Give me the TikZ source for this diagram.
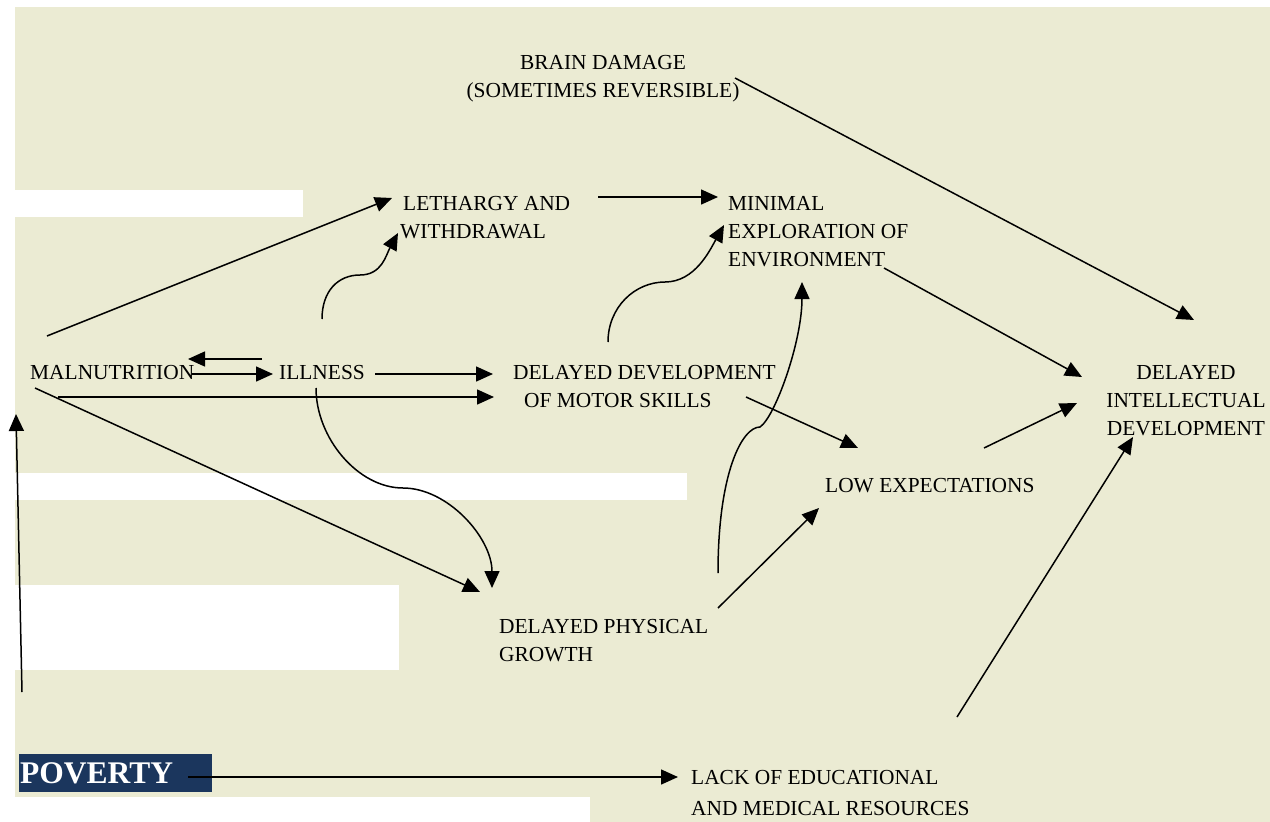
\documentclass[tikz,border=0pt]{standalone}
\usepackage{fontspec}
\setmainfont{Liberation Serif}
\usetikzlibrary{arrows.meta}
\definecolor{bgbeige}{RGB}{235,235,211}
\definecolor{povnavy}{RGB}{27,54,93}
\tikzset{
  lbl/.style={inner sep=0pt, font=\fontsize{21.4}{28}\selectfont},
  conn/.style={line width=1.5pt, -{Triangle[length=17pt,width=15pt]}},
  whitebar/.style={fill=white, draw=none},
}
\begin{document}
\begin{tikzpicture}[x=1pt,y=-1pt]
\useasboundingbox (0,0) rectangle (1270,822);
% background
\fill[bgbeige] (15,7) rectangle (1270,822);
\fill[whitebar] (0,190) rectangle (303,217);
\fill[whitebar] (0,473) rectangle (687,500);
\fill[whitebar] (0,585) rectangle (399,670);
\fill[whitebar] (0,797) rectangle (590,822);

% nodes
\node[lbl, anchor=base] (brain) at (603,69) {\begin{tabular}[t]{@{}c@{}}BRAIN DAMAGE\\(SOMETIMES REVERSIBLE)\end{tabular}};
\node[lbl, anchor=base west] (leth) at (400,210) {\begin{tabular}[t]{@{}l@{}}\hspace{3pt}LETHARGY AND\\WITHDRAWAL\end{tabular}};
\node[lbl, anchor=base west] (minimal) at (728,210) {\begin{tabular}[t]{@{}l@{}}MINIMAL\\EXPLORATION OF\\ENVIRONMENT\end{tabular}};
\node[lbl, anchor=base west] (mal) at (30,379) {MALNUTRITION};
\node[lbl, anchor=base west] (ill) at (279,379) {ILLNESS};
\node[lbl, anchor=base west] (ddms) at (513,379) {\begin{tabular}[t]{@{}l@{}}DELAYED DEVELOPMENT\\\hspace{11pt}OF MOTOR SKILLS\end{tabular}};
\node[lbl, anchor=base] (did) at (1186,379) {\begin{tabular}[t]{@{}c@{}}DELAYED\\INTELLECTUAL\\DEVELOPMENT\end{tabular}};
\node[lbl, anchor=base west] (low) at (825,492) {LOW EXPECTATIONS};
\node[lbl, anchor=base west] (dpg) at (499,633) {\begin{tabular}[t]{@{}l@{}}DELAYED PHYSICAL\\GROWTH\end{tabular}};
\node[lbl, font=\fontsize{21.4}{31}\selectfont, anchor=base west] (lack) at (691,784) {\begin{tabular}[t]{@{}l@{}}LACK OF EDUCATIONAL\\AND MEDICAL RESOURCES\end{tabular}};
\node[fill=povnavy, anchor=north west, minimum width=193pt, minimum height=38pt,
      text width=191pt, inner xsep=1pt, inner ysep=0pt, align=left, text=white,
      font=\fontsize{31.5}{36}\selectfont\bfseries] (pov) at (19,754) {POVERTY};

% straight connectors
\draw[conn] ([shift={(17,-43)}]mal.base west) -- ([shift={(-8,-12)}]leth.base west);
\draw[conn] ([shift={(198,-13)}]leth.base west) -- ([shift={(-10,-13)}]minimal.base west);
\draw[conn] ([shift={(132,9)}]brain.base) -- ([shift={(8,-59)}]did.base);
\draw[conn] ([shift={(156,58)}]minimal.base west) -- ([shift={(-104,-2)}]did.base);
\draw[conn] ([shift={(-17,-20)}]ill.base west) -- ([shift={(158,-20)}]mal.base west);
\draw[conn] ([shift={(162,-5)}]mal.base west) -- ([shift={(-6,-5)}]ill.base west);
\draw[conn] ([shift={(96,-5)}]ill.base west) -- ([shift={(-20,-5)}]ddms.base west);
\draw[conn] ([shift={(28,18)}]mal.base west) -- ([shift={(-19,18)}]ddms.base west);
\draw[conn] ([shift={(5,9)}]mal.base west) -- ([shift={(-19,-41)}]dpg.base west);
\draw[conn] ([shift={(233,18)}]ddms.base west) -- ([shift={(33,-44)}]low.base west);
\draw[conn] ([shift={(219,-25)}]dpg.base west) -- ([shift={(-6,16)}]low.base west);
\draw[conn] ([shift={(159,-44)}]low.base west) -- ([shift={(-109,24)}]did.base);
\draw[conn] ([shift={(266,-67)}]lack.base west) -- ([shift={(-53,58)}]did.base);
\draw[conn] ([shift={(3,-62)}]pov.north west) -- ([shift={(-14,35)}]mal.base west);
\draw[conn] ([shift={(169,23)}]pov.north west) -- ([shift={(-13,-7)}]lack.base west);

% curved connectors
\draw[conn] ([shift={(43,-60)}]ill.base west) .. controls +(0,-28) and +(-22,0) ..
  ([shift={(81,-104)}]ill.base west) .. controls +(22,0) and +(-12,22) ..
  ([shift={(-2,23)}]leth.base west);
\draw[conn] ([shift={(95,-37)}]ddms.base west) .. controls +(0,-35) and +(-30,0) ..
  ([shift={(152,-97)}]ddms.base west) .. controls +(30,0) and +(-14,25) ..
  ([shift={(-4,15)}]minimal.base west);
\draw[conn] ([shift={(37,9)}]ill.base west) .. controls +(0,50) and +(-45,0) ..
  ([shift={(124,109)}]ill.base west) .. controls +(45,0) and +(0,-50) ..
  ([shift={(-7,-45)}]dpg.base west);
\draw[conn] ([shift={(219,-60)}]dpg.base west) .. controls +(0,-100) and +(-18,0) ..
  ([shift={(261,-206)}]dpg.base west) .. controls +(15,-10) and +(0,60) ..
  ([shift={(74,72)}]minimal.base west);
\end{tikzpicture}
\end{document}
